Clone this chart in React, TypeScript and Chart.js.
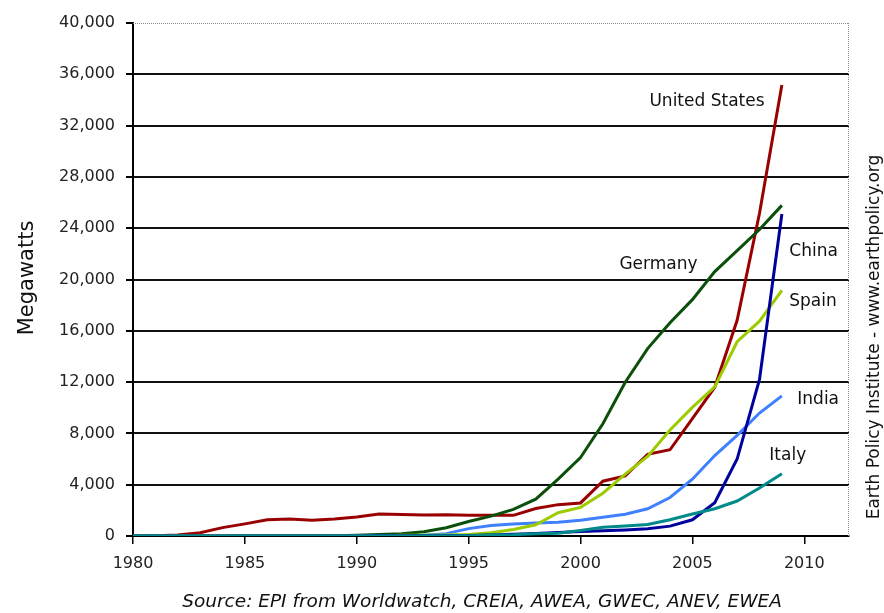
import React, { useEffect, useRef } from "react";
import { Chart, registerables } from "chart.js";
Chart.register(...registerables);

const years = [1980, 1981, 1982, 1983, 1984, 1985, 1986, 1987, 1988, 1989, 1990, 1991, 1992, 1993, 1994, 1995, 1996, 1997, 1998, 1999, 2000, 2001, 2002, 2003, 2004, 2005, 2006, 2007, 2008, 2009];

const unitedStates = [8, 18, 84, 254, 653, 945, 1265, 1333, 1231, 1332, 1484, 1709, 1680, 1635, 1663, 1612, 1614, 1611, 2141, 2445, 2578, 4275, 4685, 6372, 6725, 9149, 11603, 16819, 25170, 35159];
const germany = [0, 0, 0, 0, 0, 0, 0, 0, 0, 20, 62, 112, 180, 334, 643, 1130, 1550, 2080, 2870, 4440, 6110, 8750, 11990, 14610, 16630, 18430, 20620, 22250, 23900, 25780];
const china = [0, 0, 0, 0, 0, 0, 0, 0, 0, 0, 4, 10, 20, 30, 30, 38, 79, 146, 200, 268, 352, 406, 473, 571, 769, 1266, 2599, 6000, 12210, 25104];
const spain = [0, 0, 0, 0, 0, 0, 0, 0, 0, 0, 7, 7, 50, 60, 75, 115, 249, 512, 880, 1812, 2235, 3337, 4825, 6203, 8264, 10028, 11623, 15145, 16754, 19149];
const india = [0, 0, 0, 0, 0, 0, 0, 0, 0, 0, 20, 39, 41, 65, 185, 576, 820, 940, 1015, 1077, 1220, 1456, 1702, 2125, 3000, 4430, 6270, 7850, 9587, 10925];
const italy = [0, 0, 0, 0, 0, 0, 0, 0, 0, 0, 3, 5, 8, 10, 22, 25, 70, 103, 180, 211, 427, 682, 788, 905, 1265, 1718, 2123, 2726, 3736, 4850];

const xTicks = [1980, 1985, 1990, 1995, 2000, 2005, 2010];
const yTicks = [0, 4000, 8000, 12000, 16000, 20000, 24000, 28000, 32000, 36000, 40000];

const labelNames = ["United States", "Germany", "China", "Spain", "India", "Italy"];
const labelYears = [2003.08, 2001.74, 2009.33, 2009.33, 2009.69, 2008.44];
const labelValues = [33840, 21130, 22140, 18250, 10600, 6240];

const yTitle = "Megawatts";
const sideText = "Earth Policy Institute - www.earthpolicy.org";
const sourceText = "Source: EPI from Worldwatch, CREIA, AWEA, GWEC, ANEV, EWEA";

const FONT = "'DejaVu Sans', sans-serif";

const toPoints = (vals: number[]) => vals.map((v, i) => ({ x: years[i], y: v }));

const decoPlugin = {
  id: "deco",
  beforeDatasetsDraw(chart: any) {
    const { ctx, chartArea: a } = chart;
    ctx.save();
    ctx.strokeStyle = "#8a8a8a";
    ctx.lineWidth = 1;
    ctx.setLineDash([1, 1]);
    ctx.beginPath();
    ctx.moveTo(a.left, a.top + 0.5);
    ctx.lineTo(a.right, a.top + 0.5);
    ctx.moveTo(a.right - 0.5, a.top);
    ctx.lineTo(a.right - 0.5, a.bottom);
    ctx.stroke();
    ctx.restore();
  },
  afterDraw(chart: any) {
    const { ctx, scales } = chart;
    const x = scales.x;
    const y = scales.y;
    ctx.save();
    ctx.fillStyle = "#111";
    ctx.font = `17px ${FONT}`;
    ctx.textAlign = "left";
    ctx.textBaseline = "middle";
    labelNames.forEach((n, i) => {
      ctx.fillText(n, x.getPixelForValue(labelYears[i]), y.getPixelForValue(labelValues[i]));
    });
    // y title
    ctx.save();
    ctx.translate(28, 278);
    ctx.rotate(-Math.PI / 2);
    ctx.textAlign = "center";
    ctx.font = `21px ${FONT}`;
    ctx.fillText(yTitle, 0, 0);
    ctx.restore();
    // side text
    ctx.save();
    ctx.translate(875, 337);
    ctx.rotate(-Math.PI / 2);
    ctx.textAlign = "center";
    ctx.font = `17px ${FONT}`;
    ctx.fillText(sideText, 0, 0);
    ctx.restore();
    // source
    ctx.textAlign = "center";
    ctx.font = `italic 18.5px ${FONT}`;
    ctx.fillText(sourceText, 482, 602);
    ctx.restore();
  },
};

export default function App() {
  const ref = useRef<HTMLCanvasElement>(null);
  useEffect(() => {
    document.body.style.margin = "0";
    const chart = new Chart(ref.current as HTMLCanvasElement, {
      type: "line",
      data: {
        datasets: [
          { label: "Italy", data: toPoints(italy), borderColor: "#008a8a" },
          { label: "China", data: toPoints(china), borderColor: "#00009c" },
          { label: "Spain", data: toPoints(spain), borderColor: "#9ccc00" },
          { label: "India", data: toPoints(india), borderColor: "#3f80ff" },
          { label: "Germany", data: toPoints(germany), borderColor: "#0a500a" },
          { label: "United States", data: toPoints(unitedStates), borderColor: "#990000" },
        ].map((d) => ({ ...d, borderWidth: 3, pointRadius: 0, tension: 0, fill: false })),
      },
      options: {
        animation: false,
        responsive: false,
        devicePixelRatio: 1,
        layout: { padding: { top: 23, right: 35, left: 0, bottom: 0 } },
        plugins: { legend: { display: false }, tooltip: { enabled: false } },
        scales: {
          x: {
            type: "linear",
            min: 1980,
            max: 2012,
            afterBuildTicks: (s: any) => {
              s.ticks = xTicks.map((v) => ({ value: v }));
            },
            afterFit: (s: any) => {
              s.height = 77;
            },
            grid: { drawOnChartArea: false, color: "#000", tickColor: "#000", tickLength: 8, lineWidth: 1.5 },
            border: { color: "#000", width: 2 },
            ticks: {
              autoSkip: false,
              maxRotation: 0,
              padding: 10,
              color: "#222",
              font: { family: FONT, size: 16 },
              callback: (v: any) => String(v),
            },
          },
          y: {
            type: "linear",
            min: 0,
            max: 40000,
            afterBuildTicks: (s: any) => {
              s.ticks = yTicks.map((v) => ({ value: v }));
            },
            afterFit: (s: any) => {
              s.width = 133;
            },
            grid: {
              color: (c: any) => (c.tick && c.tick.value === 40000 ? "rgba(0,0,0,0)" : "#111"),
              tickColor: "#000",
              lineWidth: 2,
              tickLength: 7,
            },
            border: { color: "#000", width: 2 },
            ticks: {
              padding: 11,
              color: "#222",
              font: { family: FONT, size: 16 },
              callback: (v: any) => Number(v).toLocaleString("en-US"),
            },
          },
        },
      },
      plugins: [decoPlugin],
    } as any);
    return () => chart.destroy();
  }, []);
  return (
    <div style={{ width: 884, height: 613 }}>
      <canvas ref={ref} width={884} height={613} />
    </div>
  );
}
